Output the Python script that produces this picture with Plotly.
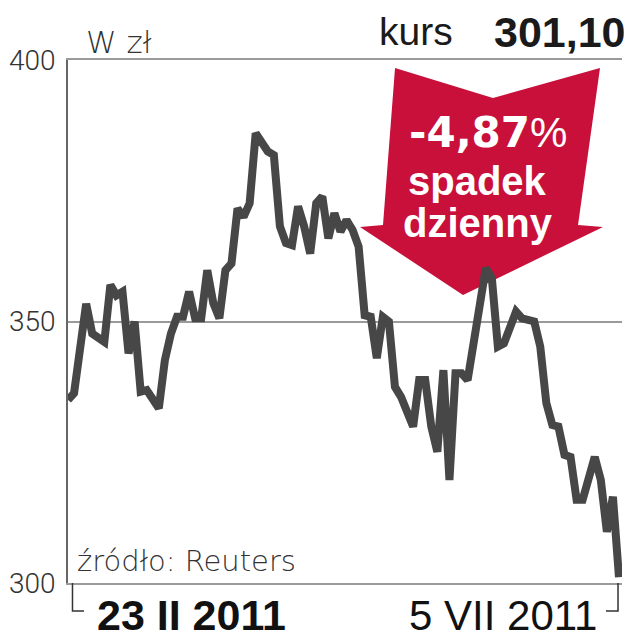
import plotly.graph_objects as go

# Trading-day index (0 = 23 II 2011, 91 = 5 VII 2011) and closing price in zł
days = [0, 1, 3, 4, 6, 7, 8, 9, 10, 11, 12, 13, 15, 16, 17, 18, 19, 20, 21, 22,
        23, 24, 25, 26, 27, 28, 29, 30, 31, 32, 33, 34, 35, 36, 37, 38, 39, 40, 41, 42,
        43, 44, 45, 46, 47, 48, 49, 50, 51, 52, 53, 54, 55, 57, 58, 59, 60, 61, 62, 63,
        64, 65, 66, 69, 70, 71, 72, 74, 75, 77, 78, 79, 80, 81, 82, 83, 84, 85, 87, 88,
        89, 90, 91]
price = [335.0, 336.3, 353.4, 347.7, 346.1, 357.0, 355.0, 355.7, 343.9, 350.0,
         336.6, 336.9, 333.4, 342.6, 347.7, 350.9, 350.9, 355.7, 350.6, 350.6,
         359.8, 353.5, 350.6, 359.8, 361.1, 371.6, 370.0, 372.6, 386.0, 384.4,
         382.5, 381.8, 368.2, 365.0, 364.6, 372.0, 368.2, 363.0, 372.6, 373.9,
         365.9, 370.7, 367.2, 369.4, 367.5, 364.3, 351.2, 350.9, 343.0, 350.9,
         350.0, 337.5, 335.6, 329.9, 338.8, 338.8, 329.9, 325.1, 340.7, 319.7,
         340.1, 340.1, 338.8, 360.2, 358.3, 345.2, 345.8, 351.9, 350.6, 350.0,
         345.2, 334.4, 330.2, 329.9, 324.5, 324.1, 315.9, 315.9, 324.1, 319.7,
         309.8, 316.5, 301.1]

y_ticks = [300, 350, 400]
y_tick_labels = ["300", "350", "400"]
start_label = "23 II 2011"
end_label = "5 VII 2011"
last_price = "301,10"
change = "-4,87"

RED = "#C8103A"
LINE = "#474747"
GRID = "#9a9a9a"
TXT = "#222222"

fig = go.Figure()
fig.add_trace(go.Scatter(
    x=days, y=price, mode="lines",
    line=dict(color=LINE, width=8, shape="linear"),
    hoverinfo="skip",
))

# screen px -> paper helpers (plot area on screen: x 68..622, y 60..583)
def px(x):
    return (x - 68) / 554.0

def py(y):
    return (583 - y) / 523.0

arrow_pts = [(395, 68), (493, 98), (600, 68), (578, 225), (603, 227),
             (463, 295), (360, 227), (383, 225)]
path = "M " + " L ".join(f"{px(a):.4f} {py(b):.4f}" for a, b in arrow_pts) + " Z"

shapes = [
    dict(type="path", xref="paper", yref="paper", path=path,
         fillcolor=RED, line=dict(width=0), layer="below"),
    dict(type="path", xref="paper", yref="paper",
         path=f"M {px(72.5):.4f} {py(583):.4f} L {px(72.5):.4f} {py(611):.4f} L {px(84):.4f} {py(611):.4f}",
         line=dict(color="#333333", width=1.5)),
    dict(type="path", xref="paper", yref="paper",
         path=f"M {px(618):.4f} {py(583):.4f} L {px(618):.4f} {py(611):.4f} L {px(606):.4f} {py(611):.4f}",
         line=dict(color="#333333", width=1.5)),
]

ann = []
def add(text, x, y, size, xanchor="center", yanchor="middle", color=TXT, family="Liberation Sans", weight=None):
    f = dict(family=family, size=size, color=color)
    if weight is not None:
        f["weight"] = weight
    ann.append(dict(text=text, x=x, y=y, xref="paper", yref="paper", showarrow=False,
                    xanchor=xanchor, yanchor=yanchor, font=f))

add(f"<span style='font-family:DejaVu Sans'><b>{change}</b></span>%", px(488), py(133), 42, color="white")
add("<b>spadek</b>", px(477), py(181), 40, color="white")
add("<b>dzienny</b>", px(478), py(223), 40, color="white")
add("kurs", px(416), py(31), 39, color="#1a1a1a")
add(f"<b>{last_price}</b>", px(628), py(32), 43, xanchor="right", color="#1a1a1a")
add("W zł", px(84), py(42), 31, xanchor="left", color="#333333", family="DejaVu Sans", weight=300)
add("źródło: Reuters", px(75), py(561), 29, xanchor="left", color="#333333", family="DejaVu Sans", weight=300)
add(f"<b>{start_label}</b>", px(95), py(615), 43, xanchor="left", color="#111111")
add(end_label, px(599), py(615), 42, xanchor="right", color="#111111")

# The page shows the figure offset by the default 8px body margin, so the
# figure is 8px smaller and margins are shifted to keep the plot area in place.
fig.update_layout(
    width=624, height=632,
    margin=dict(l=60, r=10, t=52, b=57),
    paper_bgcolor="white", plot_bgcolor="white",
    showlegend=False, hovermode=False,
    shapes=shapes, annotations=ann,
    xaxis=dict(range=[0, 91.5], showgrid=False, zeroline=False, showticklabels=False,
               ticks="", showline=True, mirror=True, linecolor=GRID, linewidth=2,
               fixedrange=True, automargin=False),
    yaxis=dict(range=[300, 400], tickvals=y_ticks, ticktext=y_tick_labels,
               showgrid=True, gridcolor=GRID, gridwidth=1.5, zeroline=False,
               showline=True, linecolor="#666666", linewidth=1.5, ticks="",
               ticklabelstandoff=5, automargin=False,
               tickfont=dict(family="Roboto", size=28, color="#333333", weight=300),
               fixedrange=True),
)

fig.write_html("out.html")
